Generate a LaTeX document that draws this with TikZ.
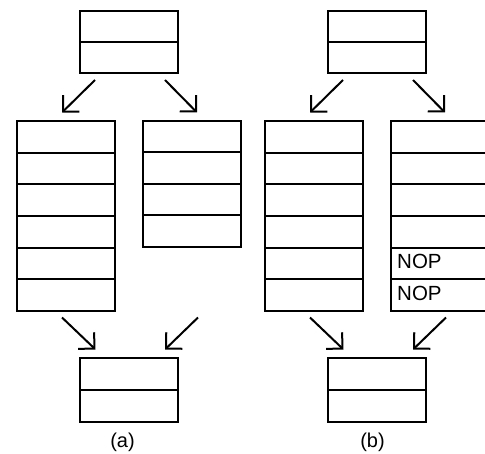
\documentclass[tikz,border=0pt]{standalone}
\usepackage{fontspec}
\setmainfont{Liberation Sans}
\usetikzlibrary{arrows.meta}
\begin{document}
\begin{tikzpicture}[x=1pt,y=-1pt,
  cell/.style={draw=black, line width=2pt, fill=white, minimum width=98pt, inner sep=0pt, anchor=north west},
  conn/.style={line width=2pt, -{Straight Barb[length=11.5pt, width=23pt, line width=2pt]}},
  nop/.style={font=\fontsize{20.5}{24}\selectfont, anchor=base west, inner sep=0pt},
  captext/.style={font=\fontsize{20}{24}\selectfont, inner sep=0pt}]
\clip (0,0) rectangle (485,454);
% ---- (a) ----
\foreach \i in {1,2}
  \node[cell, minimum height=31pt] (aT\i) at (79,{10+(\i-1)*31}) {};
\foreach \i in {1,...,6}
  \node[cell, minimum height=31.67pt] (aL\i) at (16,{120+(\i-1)*31.67}) {};
\foreach \i in {1,...,4}
  \node[cell, minimum height=31.5pt] (aR\i) at (142,{120+(\i-1)*31.5}) {};
\foreach \i in {1,2}
  \node[cell, minimum height=32pt] (aB\i) at (79,{357+(\i-1)*32}) {};
\node[captext] (capa) at (122.5,442.5) {(a)};
% ---- (b) ----
\foreach \i in {1,2}
  \node[cell, minimum height=31pt] (bT\i) at (327,{10+(\i-1)*31}) {};
\foreach \i in {1,...,6}
  \node[cell, minimum height=31.67pt] (bL\i) at (264,{120+(\i-1)*31.67}) {};
\foreach \i in {1,...,6}
  \node[cell, minimum height=31.67pt] (bR\i) at (390,{120+(\i-1)*31.67}) {};
\foreach \i in {1,2}
  \node[cell, minimum height=32pt] (bB\i) at (327,{357+(\i-1)*32}) {};
\node[nop] (nop1) at (397,269) {NOP};
\node[nop] (nop2) at (397,300.5) {NOP};
\node[captext] (capb) at (372.5,442.5) {(b)};
% ---- arrow end points ----
\coordinate (a1s) at (95,80);   \coordinate (a1e) at (62,112.5);
\coordinate (a2s) at (165,80);  \coordinate (a2e) at (197,112.5);
\coordinate (a3s) at (62,317.5); \coordinate (a3e) at (95.5,349.5);
\coordinate (a4s) at (198,317.5); \coordinate (a4e) at (165,349.5);
\coordinate (b1s) at (343,80);   \coordinate (b1e) at (310,112.5);
\coordinate (b2s) at (413,80);   \coordinate (b2e) at (445,112.5);
\coordinate (b3s) at (310,317.5); \coordinate (b3e) at (343.5,349.5);
\coordinate (b4s) at (446,317.5); \coordinate (b4e) at (413,349.5);
\foreach \p in {a1,a2,a3,a4,b1,b2,b3,b4}
  \draw[conn] (\p s) -- (\p e);
\end{tikzpicture}
\end{document}
